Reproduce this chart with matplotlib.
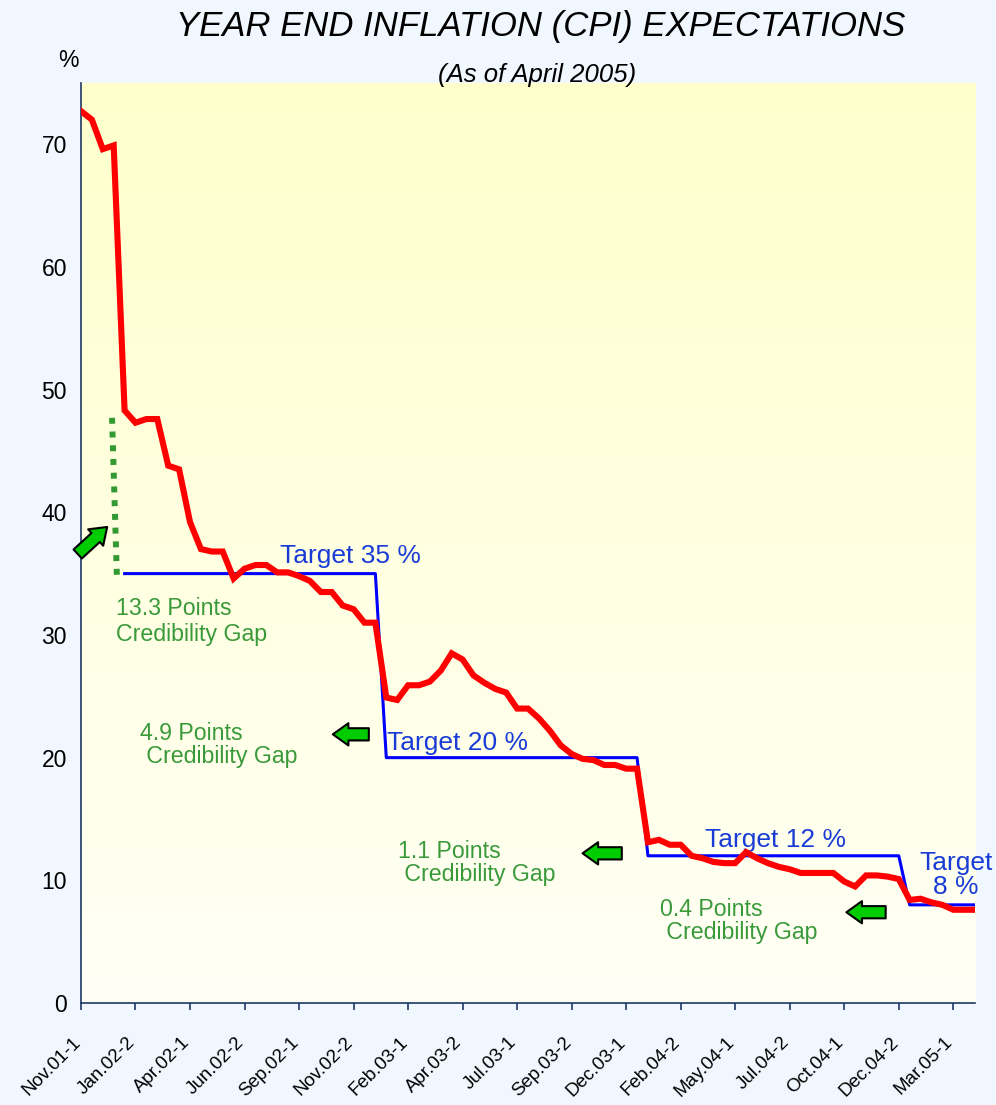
import numpy as np
import matplotlib
matplotlib.use("Agg")
import matplotlib.pyplot as plt
from matplotlib.colors import LinearSegmentedColormap
from matplotlib.patches import FancyArrowPatch
from matplotlib.transforms import ScaledTranslation

plt.rcParams['font.family'] = ['Liberation Sans', 'DejaVu Sans']

# Survey expectations, two surveys per month, Nov.01-1 ... Apr.05-1
expect = [72.7, 72.0, 69.6, 69.9, 48.3, 47.3, 47.6, 47.6, 43.8, 43.5,
          39.2, 37.0, 36.8, 36.8, 34.6, 35.4, 35.7, 35.7, 35.1, 35.1,
          34.8, 34.4, 33.5, 33.5, 32.4, 32.1, 31.0, 31.0, 24.9, 24.7,
          25.9, 25.9, 26.2, 27.1, 28.5, 28.0, 26.7, 26.1, 25.6, 25.3,
          24.0, 24.0, 23.2, 22.2, 21.0, 20.3, 19.9, 19.8, 19.4, 19.4,
          19.1, 19.1, 13.1, 13.3, 12.9, 12.9, 12.0, 11.8, 11.5, 11.4,
          11.4, 12.3, 11.8, 11.4, 11.1, 10.9, 10.6, 10.6, 10.6, 10.6,
          9.9, 9.5, 10.4, 10.4, 10.3, 10.1, 8.4, 8.5, 8.2, 8.0,
          7.6, 7.6, 7.6]

# official year-end targets (blank before the first one)
target = [np.nan] * 4 + [35] * 24 + [20] * 24 + [12] * 24 + [8] * 7

tick_labels = ['Nov.01-1', 'Jan.02-2', 'Apr.02-1', 'Jun.02-2', 'Sep.02-1',
               'Nov.02-2', 'Feb.03-1', 'Apr.03-2', 'Jul.03-1', 'Sep.03-2',
               'Dec.03-1', 'Feb.04-2', 'May.04-1', 'Jul.04-2', 'Oct.04-1',
               'Dec.04-2', 'Mar.05-1']
tick_step = 5

target_texts = ['Target 35 %', 'Target 20 %', 'Target 12 %', 'Target\n8 %']
gap_texts = ['13.3 Points\nCredibility Gap', '4.9 Points\n Credibility Gap',
             '1.1 Points\n Credibility Gap', '0.4 Points\n Credibility Gap']

x = np.arange(len(expect))

fig = plt.figure(figsize=(9.96, 11.05), dpi=100, facecolor='#F0F7FE')
ax = fig.add_axes([0.0813, 0.0923, 0.8977, 0.8327])

# yellow-to-white gradient plot area
cmap = LinearSegmentedColormap.from_list('bg', ['#FFFFF6', '#FFFFCC'])
ax.imshow(np.linspace(0, 1, 256)[:, None], extent=[0, 82, 0, 75],
          origin='lower', aspect='auto', cmap=cmap, zorder=0)

ax.plot(x, target, color='#0000FF', lw=2.2, zorder=3)
ax.plot(x, expect, color='#FF0000', lw=4.4, solid_joinstyle='miter', zorder=4)

# green dotted gap marker
ax.plot([2.85, 3.3], [47.7, 34.6], color='#339933', lw=4.3,
        linestyle=(0, (1, 1.3)), dash_capstyle='butt', zorder=5)

ax.set_xlim(0, 82)
ax.set_ylim(0, 75)
ax.set_yticks(range(0, 71, 10))
ax.set_xticks(x[::tick_step][:len(tick_labels)])
ax.set_xticklabels(tick_labels, rotation=45, ha='right', va='top',
                   rotation_mode='anchor', fontsize=13.5)
ax.tick_params(axis='x', length=5, width=1.2, color='#1F3864', pad=15)
ax.tick_params(axis='y', length=0, pad=10, labelsize=16.5)
# nudge the slanted labels a little left/down like the original
shift = ScaledTranslation(-9 / 100, -3 / 100, fig.dpi_scale_trans)
for lab in ax.get_xticklabels():
    lab.set_transform(lab.get_transform() + shift)
for s in ['top', 'right']:
    ax.spines[s].set_visible(False)
for s in ['left', 'bottom']:
    ax.spines[s].set_color('#1F3864')
    ax.spines[s].set_linewidth(1.2)

# target labels
blue = '#1A3CD6'
ax.text(18.25, 36.45, target_texts[0], color=blue, fontsize=19, va='center')
ax.text(28.05, 21.2, target_texts[1], color=blue, fontsize=19, va='center')
ax.text(57.26, 13.26, target_texts[2], color=blue, fontsize=19, va='center')
ax.text(80.25, 10.46, target_texts[3], color=blue, fontsize=19, va='center',
        ha='center', linespacing=1.0, clip_on=False)

# credibility gap labels
green = '#3A9A3A'
ax.text(3.24, 31.1, gap_texts[0], color=green, fontsize=16.7, va='center',
        linespacing=1.15)
ax.text(5.44, 21.03, gap_texts[1], color=green, fontsize=16.7, va='center',
        linespacing=1.0)
ax.text(29.06, 11.43, gap_texts[2], color=green, fontsize=16.7, va='center',
        linespacing=1.0)
ax.text(53.14, 6.71, gap_texts[3], color=green, fontsize=16.7, va='center',
        linespacing=1.0)

# block arrows
style = 'simple,head_length=0.7,head_width=1.0,tail_width=0.55'
arrows = [((26.4, 21.9), (23.1, 21.9)),
          ((49.6, 12.2), (46.0, 12.2)),
          ((73.8, 7.4), (70.2, 7.4)),
          ((-0.3, 36.6), (2.4, 38.8))]
for a, b in arrows:
    ax.add_patch(FancyArrowPatch(a, b, arrowstyle=style, mutation_scale=16,
                                 fc='#00CC00', ec='black', lw=1.5,
                                 shrinkA=0, shrinkB=0, zorder=6,
                                 clip_on=False))

fig.text(0.5427, 0.9756, 'YEAR END INFLATION (CPI) EXPECTATIONS',
         style='italic', fontsize=25, ha='center', va='center')
fig.text(0.539, 0.932, '(As of April 2005)',
         style='italic', fontsize=18.5, ha='center', va='center')
fig.text(0.0683, 0.9457, '%', fontsize=16.5, ha='center', va='center')

fig.savefig('out.png', dpi=100, facecolor=fig.get_facecolor())
